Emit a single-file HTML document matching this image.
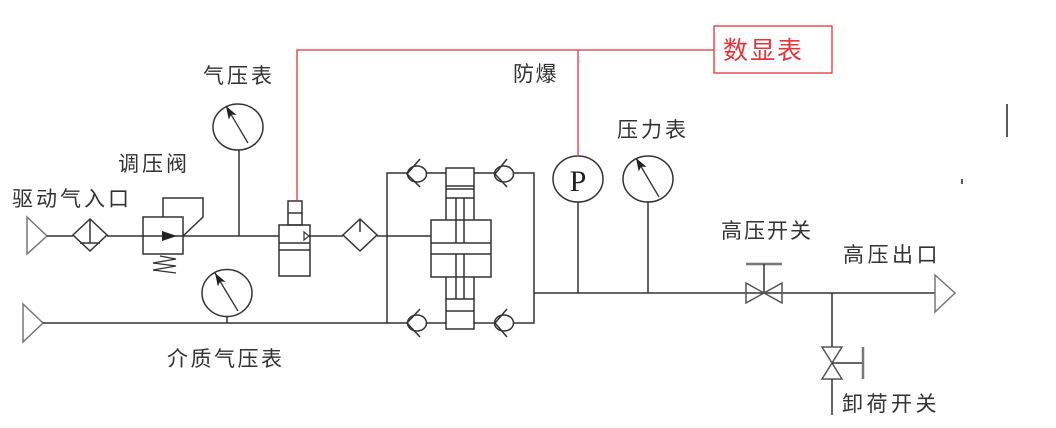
<!DOCTYPE html>
<html><head><meta charset="utf-8"><style>
html,body{margin:0;padding:0;background:#fff;}
svg{display:block;}
text{font-family:"Liberation Sans","Noto Sans CJK SC",sans-serif;}
</style></head><body>
<svg width="1056" height="428" viewBox="0 0 1056 428" xmlns="http://www.w3.org/2000/svg">
<defs>
<marker id="ah" markerUnits="userSpaceOnUse" markerWidth="14" markerHeight="10" refX="13" refY="4.5" orient="auto">
<path d="M0,0 L13,4.5 L0,9 L3,4.5 z" fill="#222"/>
</marker>
</defs>
<g fill="none" stroke="#333" stroke-width="1.5">
<!-- inlet 1 -->
<polygon points="27,217 47,236 27,254" stroke="#777"/>
<line x1="47" y1="236" x2="73" y2="236"/>
<polygon points="73,235 90,219 107,235 90,251"/>
<line x1="90" y1="219" x2="90" y2="243"/>
<line x1="80" y1="243" x2="100" y2="243"/>
<line x1="107" y1="236" x2="143" y2="236"/>
<!-- regulator -->
<rect x="143" y="217" width="40" height="37"/>
<polyline points="163,217 163,198 203,198 203,217 183,236"/>
<polyline points="160,256 176,259 153,263 176,266 153,270 176,273" stroke-width="1.3"/>
<line x1="143" y1="236" x2="279" y2="236"/>
<!-- gauge 1 -->
<line x1="239" y1="150" x2="239" y2="236"/>
<ellipse cx="238" cy="127" rx="25" ry="23"/>
<line x1="248" y1="143" x2="226" y2="106" stroke-width="1.3" marker-end="url(#ah)"/>
<!-- solenoid -->
<rect x="288" y="201" width="14" height="24"/>
<line x1="288" y1="213" x2="302" y2="213"/>
<rect x="279" y="225" width="31" height="51"/>
<line x1="279" y1="243" x2="310" y2="243"/>
<line x1="279" y1="250" x2="310" y2="250"/>
<polygon points="304,232 309,236 304,240" stroke-width="1.2"/>
<line x1="310" y1="236" x2="343" y2="236"/>
<!-- filter 2 -->
<polygon points="343,235 360,219 377,235 360,251"/>
<line x1="360" y1="219" x2="360" y2="232"/>
<line x1="377" y1="236" x2="431" y2="236"/>
<!-- buses -->
<polyline points="407,173 387,173 387,323 407,323"/>
<polyline points="514,173 534,173 534,323 514,323"/>
<line x1="534" y1="293" x2="935" y2="293"/>
<!-- check valves -->
<ellipse cx="417" cy="174" rx="9.5" ry="8"/>
<polyline points="420,159 407,174 420,187"/>
<ellipse cx="417" cy="323" rx="9.5" ry="8"/>
<polyline points="420,309 407,323 420,337"/>
<ellipse cx="504" cy="174" rx="9.5" ry="8"/>
<polyline points="507,159 495,174 507,187"/>
<ellipse cx="504" cy="323" rx="9.5" ry="8"/>
<polyline points="507,309 495,323 507,337"/>
<line x1="427" y1="173" x2="446" y2="173"/>
<line x1="474" y1="173" x2="495" y2="173"/>
<line x1="427" y1="323" x2="446" y2="323"/>
<line x1="474" y1="323" x2="495" y2="323"/>
<!-- cylinder -->
<rect x="446" y="168" width="28" height="30"/>
<line x1="446" y1="186" x2="474" y2="186"/>
<line x1="446" y1="189" x2="474" y2="189"/>
<line x1="446" y1="198" x2="446" y2="220"/>
<line x1="474" y1="198" x2="474" y2="220"/>
<line x1="456" y1="198" x2="456" y2="243"/>
<line x1="464" y1="198" x2="464" y2="243"/>
<rect x="431" y="220" width="60" height="57"/>
<line x1="431" y1="243" x2="491" y2="243"/>
<line x1="431" y1="254" x2="491" y2="254"/>
<line x1="456" y1="254" x2="456" y2="299"/>
<line x1="464" y1="254" x2="464" y2="299"/>
<line x1="446" y1="277" x2="446" y2="299"/>
<line x1="474" y1="277" x2="474" y2="299"/>
<rect x="446" y="299" width="28" height="30"/>
<line x1="446" y1="311" x2="474" y2="311"/>
<!-- P gauge -->
<ellipse cx="578" cy="179" rx="25" ry="23"/>
<line x1="578" y1="202" x2="578" y2="293"/>
<!-- pressure gauge -->
<ellipse cx="648" cy="179" rx="25" ry="23"/>
<line x1="648" y1="202" x2="648" y2="293"/>
<line x1="659" y1="197" x2="636" y2="158" stroke-width="1.3" marker-end="url(#ah)"/>
<!-- gate valve -->
<line x1="746" y1="264" x2="782" y2="264" stroke="#777" stroke-width="2.5"/>
<line x1="764" y1="264" x2="764" y2="293"/>
<polygon points="746,283 782,303 782,283 746,303" stroke="#555"/>
<!-- branch -->
<line x1="832" y1="293" x2="832" y2="347"/>
<polygon points="822,347 842,379 822,379 842,347" stroke="#555"/>
<line x1="832" y1="363" x2="863" y2="363"/>
<line x1="863" y1="347" x2="863" y2="379" stroke="#777" stroke-width="2.5"/>
<line x1="832" y1="379" x2="832" y2="415"/>
<polygon points="935,275 955,293 935,312" stroke="#777"/>
<!-- bottom line -->
<polygon points="23,304 43,323 23,342" stroke="#777"/>
<line x1="43" y1="323" x2="387" y2="323"/>
<ellipse cx="227" cy="293" rx="25" ry="23.5"/>
<line x1="227" y1="316" x2="227" y2="323"/>
<line x1="238" y1="311" x2="215" y2="273" stroke-width="1.3" marker-end="url(#ah)"/>
<!-- stray marks -->
<line x1="1007" y1="104" x2="1007" y2="137" stroke="#222"/>
<line x1="962" y1="179" x2="962" y2="184" stroke="#222"/>
</g>
<!-- regulator arrow -->
<polygon points="162,231 177,236 162,241" fill="#222"/>
<!-- red -->
<g fill="none" stroke="#e8333a" stroke-width="1.3">
<polyline points="297,201 297,50 714,50"/>
<line x1="578" y1="50" x2="578" y2="156"/>
<rect x="714" y="26" width="118" height="47"/>
</g>
<text x="723" y="59" font-size="25" fill="#e8333a" letter-spacing="2">数显表</text>
<text x="578" y="191" font-size="30" fill="#222" text-anchor="middle" style="font-family:'Liberation Serif',serif">P</text>
<g font-size="21" fill="#333" letter-spacing="3">
<text x="12" y="206">驱动气入口</text>
<text x="118" y="171">调压阀</text>
<text x="203" y="83">气压表</text>
<text x="167" y="366" letter-spacing="2.5">介质气压表</text>
<text x="513" y="81" letter-spacing="1.5">防爆</text>
<text x="617" y="137">压力表</text>
<text x="721" y="238" letter-spacing="2">高压开关</text>
<text x="843" y="262" letter-spacing="3.5">高压出口</text>
<text x="842" y="411" letter-spacing="3.5">卸荷开关</text>
</g>
</svg>
</body></html>
